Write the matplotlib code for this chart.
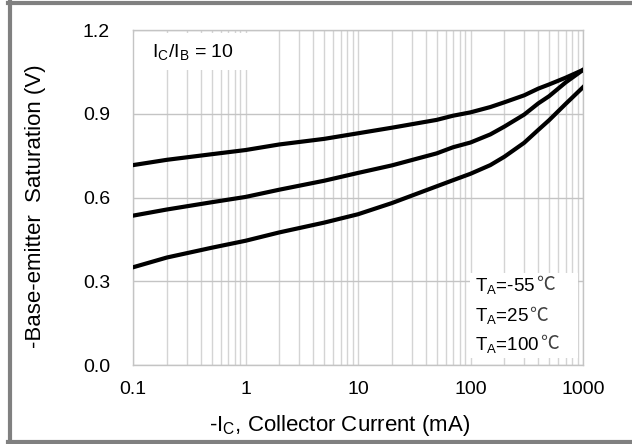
import matplotlib.pyplot as plt
from matplotlib.lines import Line2D
from matplotlib.patches import Rectangle

plt.rcParams['font.family'] = ['Liberation Sans', 'DejaVu Sans']

# Data
current_ma = [0.1, 0.2, 0.5, 1, 2, 5, 10, 20, 50, 70, 100, 150, 200, 300, 400, 500, 700, 1000]
vbe_m55 = [0.716, 0.735, 0.755, 0.770, 0.790, 0.810, 0.830, 0.850, 0.878, 0.893,
           0.905, 0.924, 0.941, 0.966, 0.990, 1.005, 1.029, 1.057]
vbe_25 = [0.535, 0.557, 0.583, 0.602, 0.628, 0.660, 0.688, 0.715, 0.758, 0.780,
          0.797, 0.826, 0.854, 0.897, 0.937, 0.963, 1.012, 1.057]
vbe_100 = [0.350, 0.385, 0.420, 0.445, 0.475, 0.510, 0.540, 0.580, 0.640, 0.662,
           0.685, 0.716, 0.746, 0.796, 0.842, 0.877, 0.935, 0.995]
temp_labels = ['T$_\\mathregular{A}$=-55', 'T$_\\mathregular{A}$=25', 'T$_\\mathregular{A}$=100']
y_ticks = [0.0, 0.3, 0.6, 0.9, 1.2]
x_ticks = [0.1, 1, 10, 100, 1000]
x_ticklabels = ['0.1', '1', '10', '100', '1000']

fig = plt.figure(figsize=(6.32, 4.44), dpi=100)
ax = fig.add_axes([133 / 632, 1 - 365 / 444, 450 / 632, 335 / 444])

for v in (vbe_m55, vbe_25, vbe_100):
    ax.plot(current_ma, v, color='black', lw=3, solid_joinstyle='round', zorder=3)

ax.set_xscale('log')
ax.set_xlim(0.1, 1000)
ax.set_ylim(0, 1.2)
ax.set_xticks(x_ticks)
ax.set_xticklabels(x_ticklabels)
ax.set_yticks(y_ticks)
ax.set_yticklabels([f'{t:.1f}' for t in y_ticks])
ax.tick_params(axis='both', which='both', length=0, labelsize=14)
ax.tick_params(axis='x', pad=11.5)
ax.tick_params(axis='y', pad=16.5)

ax.grid(axis='x', which='both', color='#d4d4d4', lw=1)
ax.grid(axis='y', which='major', color='#c4c4c4', lw=1)
for s in ax.spines.values():
    s.set_color('#c4c4c4')
    s.set_linewidth(1)
ax.set_axisbelow(True)

ax.set_xlabel('-I$_\\mathregular{C}$, Collector Current (mA)', fontsize=16)
ax.set_ylabel('-Base-emitter  Saturation (V)', fontsize=16)
ax.xaxis.set_label_coords(0.46, -0.143)
ax.yaxis.set_label_coords(-0.193, 0.475)

# white boxes behind the annotations
ax.add_patch(Rectangle((0.002, 0.881), 0.258, 0.11, transform=ax.transAxes,
                       facecolor='white', edgecolor='none', zorder=2))
ax.add_patch(Rectangle((0.749, 0.021), 0.24, 0.254, transform=ax.transAxes,
                       facecolor='white', edgecolor='none', zorder=2))

ax.text(0.042, 0.931, 'I$_\\mathregular{C}$/I$_\\mathregular{B}$ = 10', transform=ax.transAxes,
        fontsize=14, va='center', ha='left', zorder=4)

ypos = [0.233, 0.143, 0.058]
for lbl, yp in zip(temp_labels, ypos):
    t = ax.text(0.76, yp, lbl, transform=ax.transAxes, fontsize=13.5,
                va='center', ha='left', zorder=4)
    ax.annotate('\u2103', xy=(1, 0.6), xycoords=t, xytext=(0.3, 0),
                textcoords='offset points', va='center', ha='left',
                fontsize=13.5, family=['Noto Sans CJK SC', 'DejaVu Sans'],
                color='#404040', zorder=4)

# outer gray frame (left, top, bottom)
fc = '#808080'
fig.add_artist(Line2D([10 / 632, 10 / 632], [0, 1 - 2 / 444], color=fc, lw=3,
                      transform=fig.transFigure))
fig.add_artist(Line2D([8 / 632, 1], [1 - 3 / 444, 1 - 3 / 444], color=fc, lw=3,
                      transform=fig.transFigure))
fig.add_artist(Line2D([8 / 632, 1], [2 / 444, 2 / 444], color=fc, lw=3,
                      transform=fig.transFigure))

fig.savefig('out.png', dpi=100)
